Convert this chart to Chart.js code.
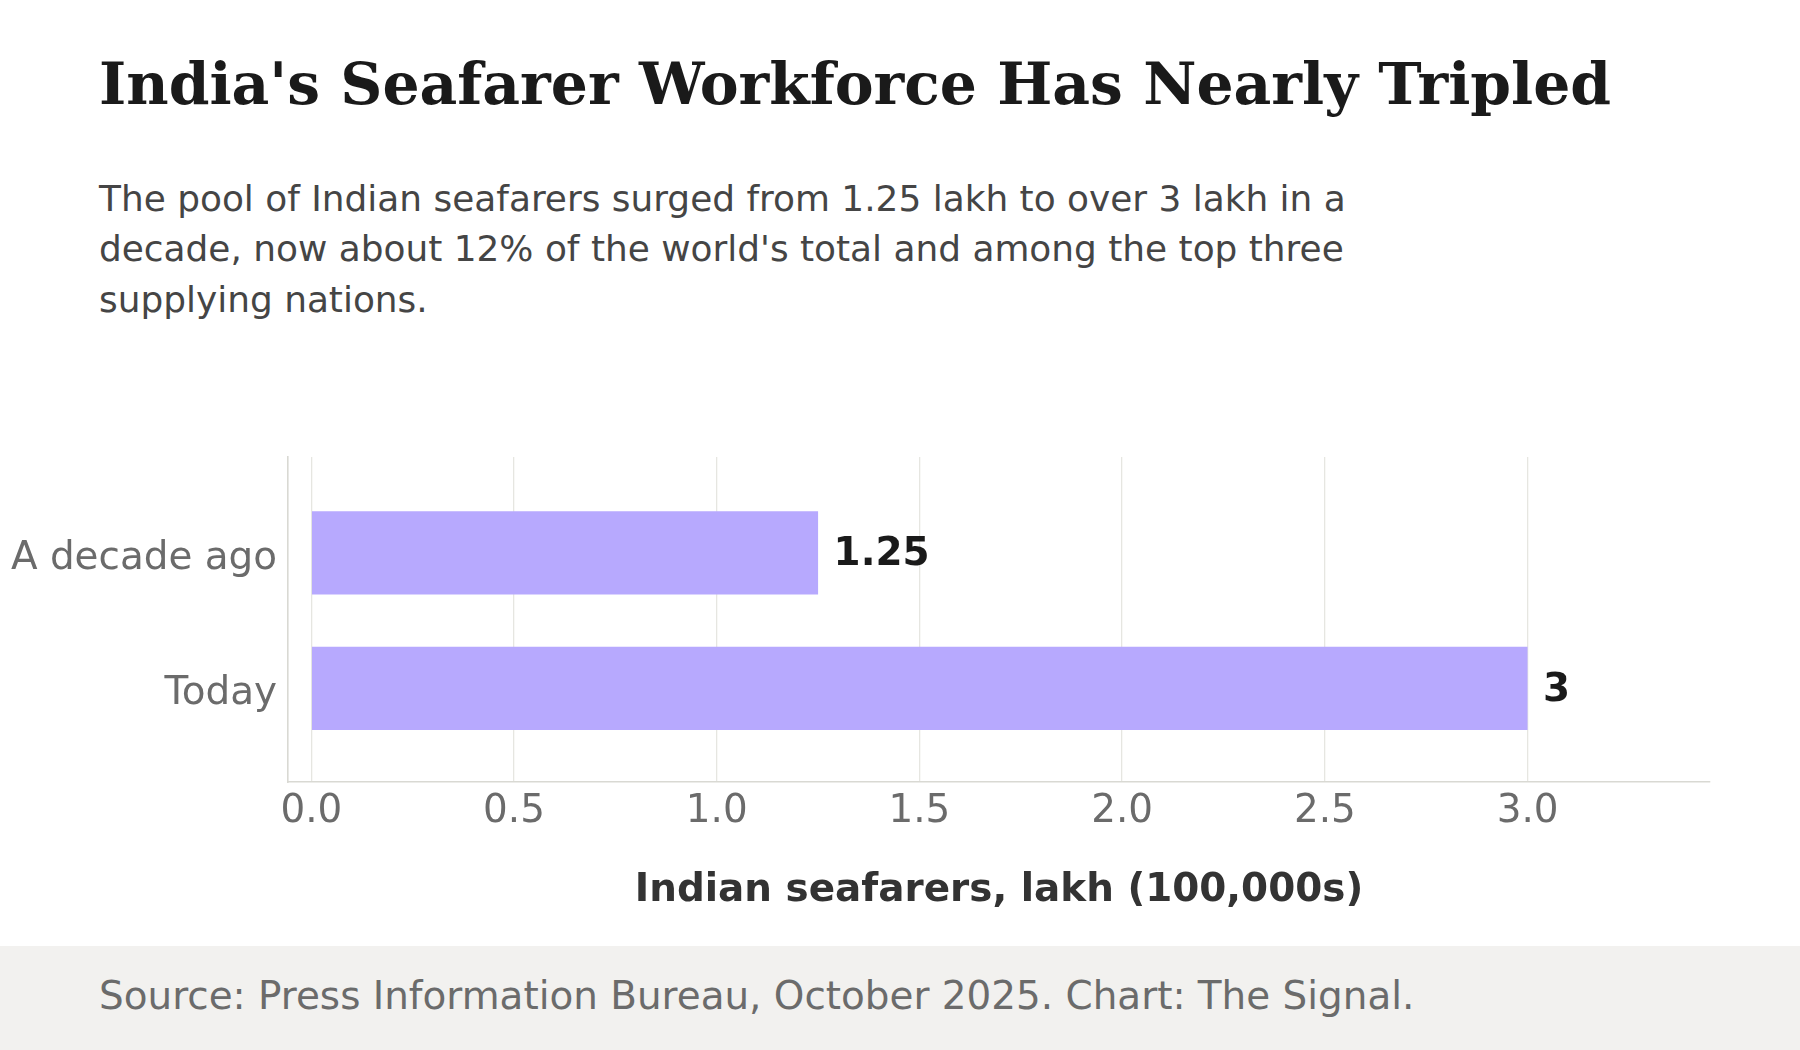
<!DOCTYPE html>
<html>
<head>
<meta charset="utf-8">
<title>India's Seafarer Workforce</title>
<script src="https://cdn.jsdelivr.net/npm/chart.js@4/dist/chart.umd.min.js"></script>
<style>
    html, body {
        margin: 0;
        padding: 0;
        background: #ffffff;
        width: 1800px;
        height: 1050px;
        overflow: hidden;
    }
    #title {
        position: absolute;
        left: 99px;
        top: 54.7px;
        font-family: 'DejaVu Serif', serif;
        font-weight: bold;
        font-size: 58.3px;
        line-height: 1;
        color: #1a1a1a;
        white-space: nowrap;
    }
    #subtitle {
        position: absolute;
        left: 99px;
        top: 173.6px;
        font-family: 'DejaVu Sans', sans-serif;
        font-size: 35.9px;
        line-height: 50.5px;
        color: #454545;
        white-space: nowrap;
    }
    #chartBox {
        position: absolute;
        left: 0;
        top: 400px;
        width: 1800px;
        height: 546px;
    }
    #footer {
        position: absolute;
        left: 0;
        top: 946px;
        width: 1800px;
        height: 104px;
        background: #f2f1ef;
    }
    #source {
        position: absolute;
        left: 99px;
        top: 31.3px;
        font-family: 'DejaVu Sans', sans-serif;
        font-size: 38.9px;
        line-height: 1;
        color: #6b6b6b;
        white-space: nowrap;
    }
</style>
</head>
<body>
    <div id="title">India's Seafarer Workforce Has Nearly Tripled</div>
    <div id="subtitle">The pool of Indian seafarers surged from 1.25 lakh to over 3 lakh in a<br>decade, now about 12% of the world's total and among the top three<br>supplying nations.</div>
    <div id="chartBox"><canvas id="seafarersChart" width="1800" height="546"></canvas></div>
    <div id="footer"><div id="source">Source: Press Information Bureau, October 2025. Chart: The Signal.</div></div>

<script>
    // data
    var categories = ['A decade ago', 'Today'];
    var seafarers = [1.25, 3];
    var valueLabels = ['1.25', '3'];
    var xTicks = [0, 0.5, 1.0, 1.5, 2.0, 2.5, 3.0];
    var xTickLabels = ['0.0', '0.5', '1.0', '1.5', '2.0', '2.5', '3.0'];
    var xTitle = 'Indian seafarers, lakh (100,000s)';

    var fontFamily = "'DejaVu Sans', sans-serif";

    // draws the bold number just right of each bar
    var valueLabelPlugin = {
        id: 'valueLabels',
        afterDatasetsDraw: function (chart) {
            var ctx = chart.ctx;
            var meta = chart.getDatasetMeta(0);

            ctx.save();
            ctx.font = 'bold 38.9px ' + fontFamily;
            ctx.fillStyle = '#1a1a1a';
            ctx.textAlign = 'left';
            ctx.textBaseline = 'middle';

            meta.data.forEach(function (bar, i) {
                ctx.fillText(valueLabels[i], bar.x + 15.5, bar.y + 2.5);
            });

            ctx.restore();
        }
    };

    var ctx = document.getElementById('seafarersChart').getContext('2d');

    var myChart = new Chart(ctx, {
        type: 'bar',
        data: {
            datasets: [{
                data: seafarers.map(function (v, i) {
                    return { x: v, y: i };
                }),
                backgroundColor: '#b7a9fe',
                borderWidth: 0,
                categoryPercentage: 1,
                barPercentage: 0.615
            }]
        },
        options: {
            indexAxis: 'y',
            responsive: false,
            animation: false,
            devicePixelRatio: 1,
            layout: {
                padding: { top: 57, right: 90, bottom: 0, left: 0 }
            },
            plugins: {
                legend: { display: false },
                tooltip: { enabled: false }
            },
            scales: {
                x: {
                    type: 'linear',
                    position: 'bottom',
                    min: -0.0575,
                    max: 3.45,
                    afterBuildTicks: function (axis) {
                        axis.ticks = xTicks.map(function (v) {
                            return { value: v };
                        });
                    },
                    afterFit: function (scale) {
                        scale.height = 164;
                    },
                    grid: {
                        color: '#e6e6e1',
                        lineWidth: 1.3,
                        drawTicks: false
                    },
                    border: {
                        display: true,
                        color: '#d9d9d3',
                        width: 1.6
                    },
                    ticks: {
                        padding: 6.6,
                        color: '#6b6b6b',
                        font: { family: fontFamily, size: 38.9 },
                        maxRotation: 0,
                        autoSkip: false,
                        callback: function (value) {
                            return xTickLabels[xTicks.indexOf(value)];
                        }
                    },
                    title: {
                        display: true,
                        text: xTitle,
                        color: '#333333',
                        font: { family: fontFamily, size: 38.9, weight: 'bold' },
                        padding: { top: 0, bottom: 31.5 }
                    }
                },
                y: {
                    type: 'linear',
                    position: 'left',
                    reverse: true,
                    offset: false,
                    min: -0.708,
                    max: 1.692,
                    afterBuildTicks: function (axis) {
                        axis.ticks = categories.map(function (c, i) {
                            return { value: i };
                        });
                    },
                    afterFit: function (scale) {
                        scale.width = 288;
                    },
                    grid: {
                        display: false,
                        offset: false,
                        drawTicks: false
                    },
                    border: {
                        display: true,
                        color: '#d9d9d3',
                        width: 1.6
                    },
                    ticks: {
                        padding: 11,
                        labelOffset: 6,
                        color: '#6b6b6b',
                        font: { family: fontFamily, size: 38.9 },
                        callback: function (value) {
                            return categories[value];
                        }
                    }
                }
            }
        },
        plugins: [valueLabelPlugin]
    });
</script>
</body>
</html>
